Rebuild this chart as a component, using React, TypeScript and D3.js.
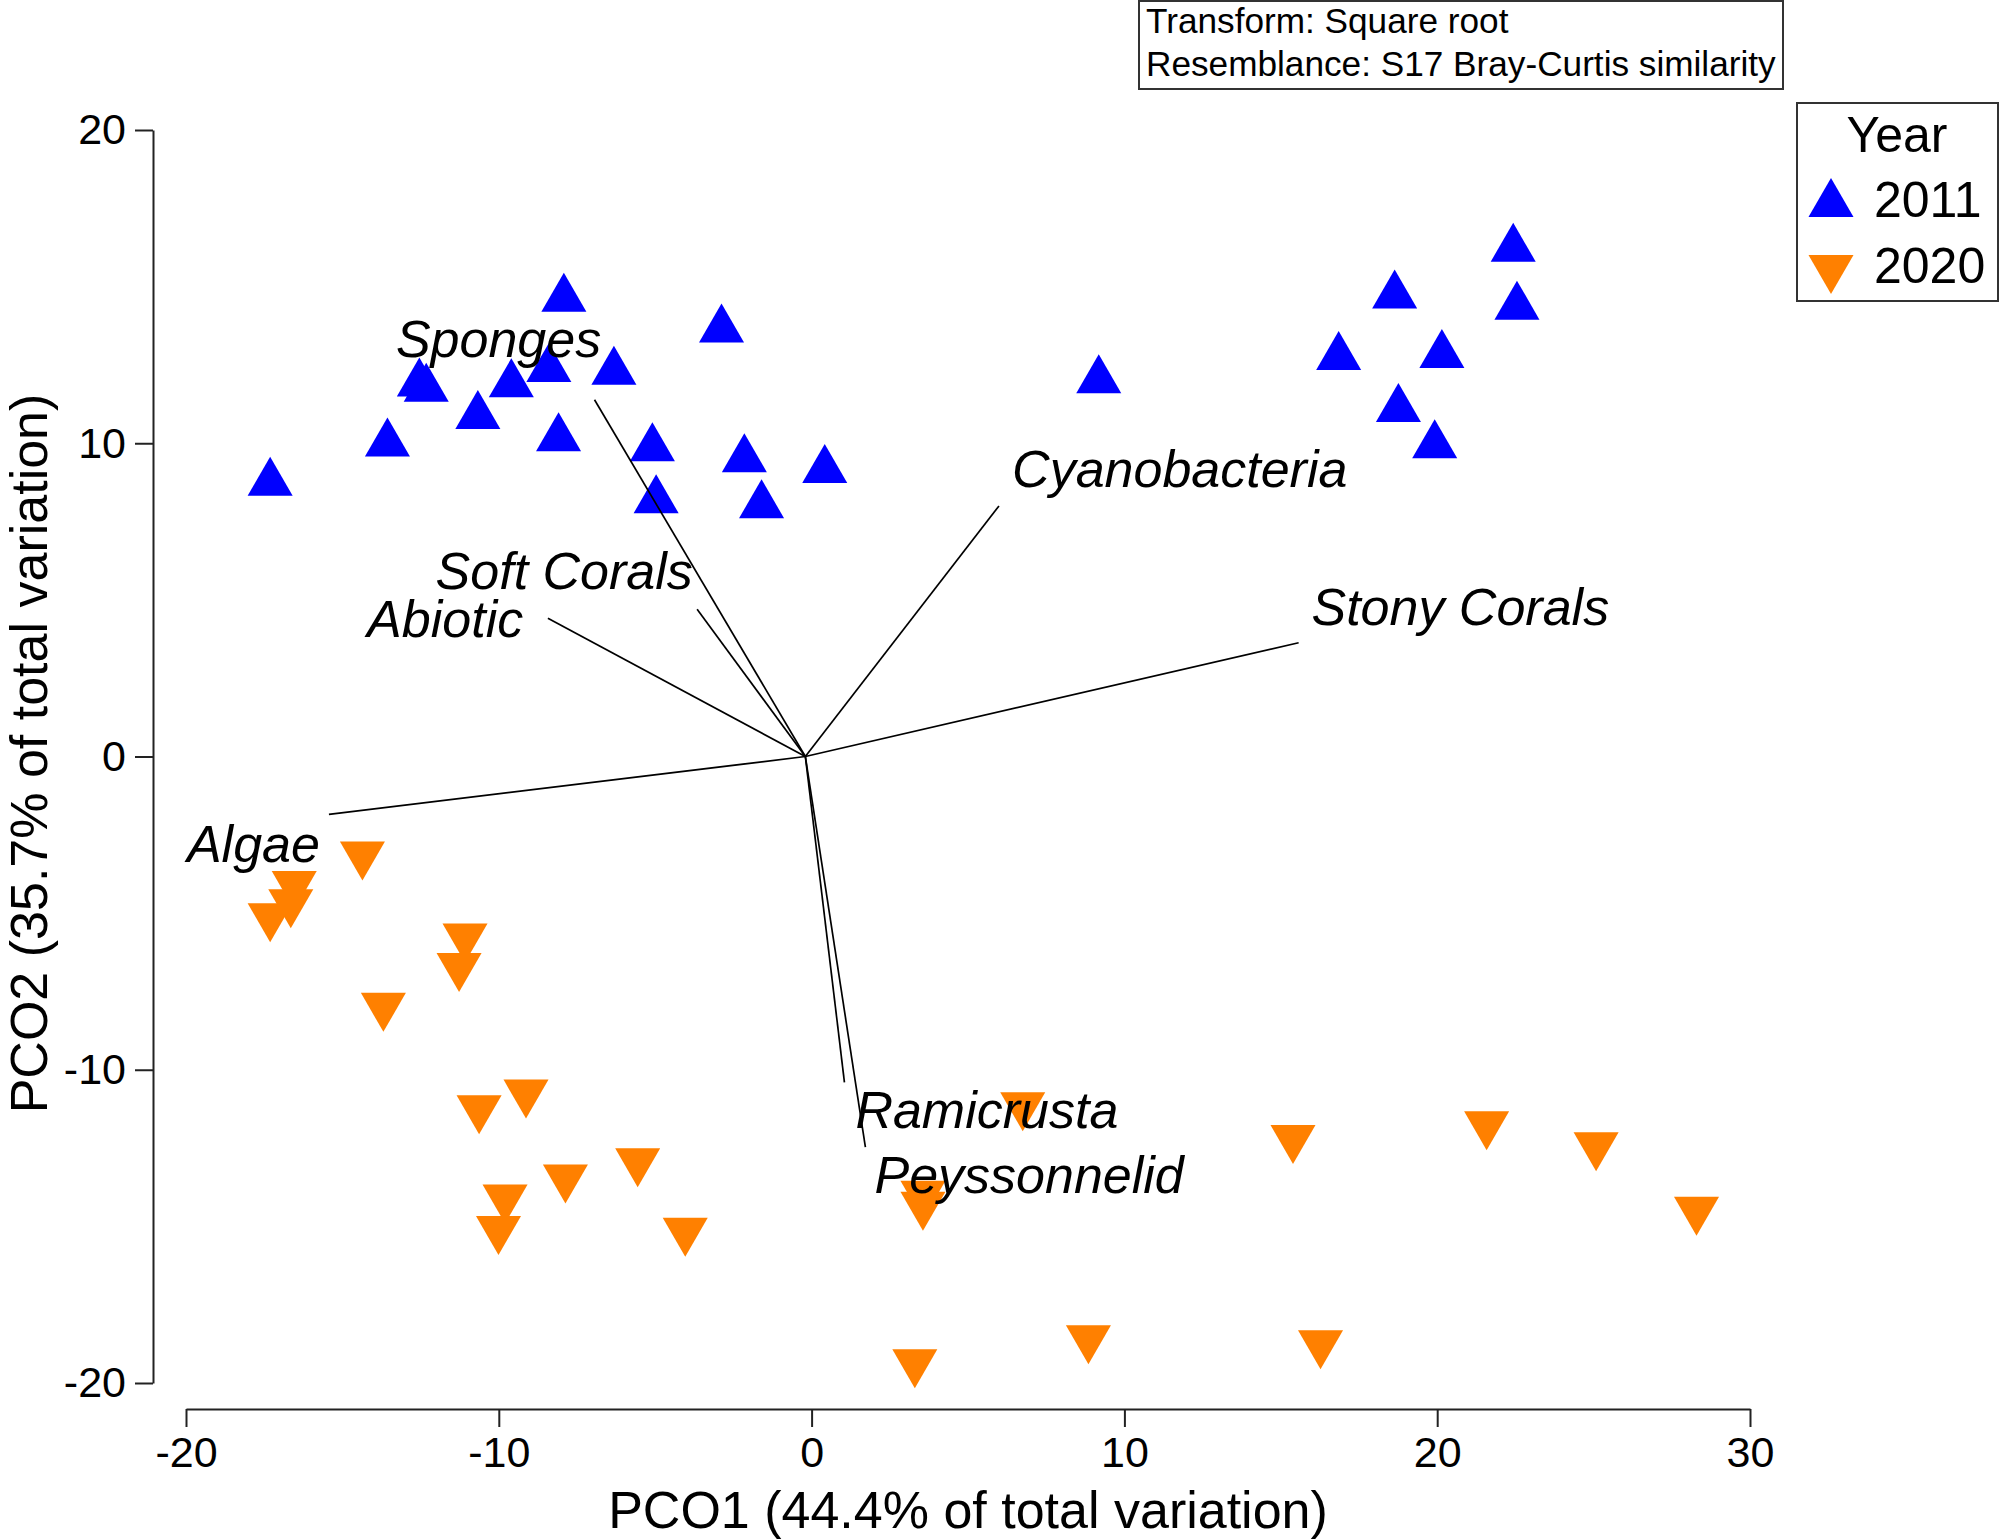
import React, { useEffect, useRef } from "react";
import * as d3 from "d3";

type Pt = [number, number];

// PCO scores
const sites2011: Pt[] = [
  [-17.31, 8.74], [-13.56, 9.99], [-12.54, 11.91], [-12.32, 11.74],
  [-10.67, 10.87], [-9.6, 11.88], [-8.4, 12.37], [-8.09, 10.16],
  [-7.92, 14.61], [-6.32, 12.28], [-5.09, 9.84], [-4.97, 8.18],
  [-2.88, 13.63], [-2.15, 9.49], [-1.6, 8.02], [0.42, 9.15],
  [9.18, 12.01], [16.85, 12.75], [18.64, 14.72], [18.76, 11.09],
  [20.15, 12.82], [19.92, 9.94], [22.43, 16.21], [22.55, 14.36],
];

const sites2020: Pt[] = [
  [-14.36, -3.13], [-16.54, -4.07], [-16.65, -4.65], [-17.31, -5.1],
  [-11.08, -5.75], [-11.27, -6.69], [-13.69, -7.96], [-10.63, -11.23],
  [-9.13, -10.73], [-5.56, -12.92], [-7.87, -13.44], [-9.8, -14.08],
  [-10.01, -15.08], [-4.04, -15.14], [6.75, -11.13], [15.39, -12.18],
  [21.58, -11.74], [25.08, -12.41], [28.29, -14.47], [3.56, -13.96],
  [3.56, -14.31], [3.3, -19.34], [8.85, -18.57], [16.27, -18.73],
];

// vector overlay (Pearson correlations, scaled to the plot)
const vectorOrigin: Pt = [-0.2, 0];
const vectorNames = [
  "Sponges", "Soft Corals", "Abiotic", "Cyanobacteria",
  "Stony Corals", "Algae", "Ramicrusta", "Peyssonnelid",
];
const vectorEnds: Pt[] = [
  [-6.94, 11.39], [-3.66, 4.7], [-8.43, 4.41], [5.99, 8.0],
  [15.57, 3.63], [-15.43, -1.85], [1.05, -10.4], [1.72, -12.47],
];
const labelSpots: Pt[] = [
  [-13.29, 12.74], [-12.02, 5.36], [-14.21, 3.82], [6.41, 8.6],
  [15.98, 4.21], [-19.97, -3.37], [1.4, -11.86], [2.01, -13.94],
];

const years = ["2011", "2020"];
const yearColors = ["#0000ff", "#ff8000"];
const xTicks = [-20, -10, 0, 10, 20, 30];
const yTicks = [-20, -10, 0, 10, 20];
const infoLines = ["Transform: Square root", "Resemblance: S17 Bray-Curtis similarity"];
const xTitle = "PCO1 (44.4% of total variation)";
const yTitle = "PCO2 (35.7% of total variation)";

const FONT = "'Liberation Sans', Arial, Helvetica, sans-serif";
const W = 2000;
const H = 1539;

export default function App() {
  const svgRef = useRef<SVGSVGElement | null>(null);

  useEffect(() => {
    const svg = d3.select(svgRef.current);
    svg.selectAll("*").remove();

    const x = d3.scaleLinear().domain([-20, 30]).range([186, 1750]);
    const y = d3.scaleLinear().domain([-20, 20]).range([1383, 130]);

    const axisColor = "#222";

    // x axis
    const gx = svg
      .append("g")
      .attr("transform", "translate(0,1409)")
      .call(d3.axisBottom(x).tickValues(xTicks).tickSize(18).tickSizeOuter(0).tickPadding(9).tickFormat((d) => String(d)));
    gx.attr("font-family", FONT).attr("font-size", 43);
    gx.selectAll("path, line").attr("stroke", axisColor).attr("stroke-width", 2);
    gx.selectAll("text").attr("fill", "#000");

    // y axis
    const gy = svg
      .append("g")
      .attr("transform", "translate(153,0)")
      .call(d3.axisLeft(y).tickValues(yTicks).tickSize(18).tickSizeOuter(0).tickPadding(9).tickFormat((d) => String(d)));
    gy.attr("font-family", FONT).attr("font-size", 43);
    gy.selectAll("path, line").attr("stroke", axisColor).attr("stroke-width", 2);
    gy.selectAll("text").attr("fill", "#000");

    // axis titles
    svg
      .append("text")
      .attr("x", (x(-20) + x(30)) / 2)
      .attr("y", 1528)
      .attr("text-anchor", "middle")
      .attr("font-family", FONT)
      .attr("font-size", 52)
      .text(xTitle);

    svg
      .append("text")
      .attr("transform", `translate(47,${(y(20) + y(-20)) / 2 - 3}) rotate(-90)`)
      .attr("text-anchor", "middle")
      .attr("font-family", FONT)
      .attr("font-size", 52)
      .text(yTitle);

    // points first, overlay goes on top
    const tri = d3.symbol().type(d3.symbolTriangle).size(878);
    const pg = svg.append("g");
    pg.selectAll("path.y2011")
      .data(sites2011)
      .join("path")
      .attr("class", "y2011")
      .attr("d", tri)
      .attr("transform", (d) => `translate(${x(d[0])},${y(d[1])})`)
      .attr("fill", yearColors[0]);
    pg.selectAll("path.y2020")
      .data(sites2020)
      .join("path")
      .attr("class", "y2020")
      .attr("d", tri)
      .attr("transform", (d) => `translate(${x(d[0])},${y(d[1])}) rotate(180)`)
      .attr("fill", yearColors[1]);

    // vectors
    const vg = svg.append("g");
    vg.selectAll("line")
      .data(vectorEnds)
      .join("line")
      .attr("x1", x(vectorOrigin[0]))
      .attr("y1", y(vectorOrigin[1]))
      .attr("x2", (d) => x(d[0]))
      .attr("y2", (d) => y(d[1]))
      .attr("stroke", "#000")
      .attr("stroke-width", 1.7);

    vg.selectAll("text")
      .data(labelSpots)
      .join("text")
      .attr("x", (d) => x(d[0]))
      .attr("y", (d) => y(d[1]))
      .attr("font-family", FONT)
      .attr("font-style", "italic")
      .attr("font-size", 52)
      .text((_, i) => vectorNames[i]);

    // info box
    const info = svg.append("g");
    info
      .append("rect")
      .attr("x", 1139)
      .attr("y", 1)
      .attr("width", 644)
      .attr("height", 88)
      .attr("fill", "#fff")
      .attr("stroke", "#333")
      .attr("stroke-width", 2);
    info
      .selectAll("text")
      .data(infoLines)
      .join("text")
      .attr("x", 1146)
      .attr("y", (_, i) => 33 + i * 43)
      .attr("font-family", FONT)
      .attr("font-size", 35.2)
      .text((d) => d);

    // legend
    const lg = svg.append("g");
    lg.append("rect")
      .attr("x", 1797)
      .attr("y", 103)
      .attr("width", 201)
      .attr("height", 198)
      .attr("fill", "#fff")
      .attr("stroke", "#333")
      .attr("stroke-width", 2);
    lg.append("text")
      .attr("x", 1897)
      .attr("y", 152)
      .attr("text-anchor", "middle")
      .attr("font-family", FONT)
      .attr("font-size", 50)
      .text("Year");
    years.forEach((yr, i) => {
      const cy = 204 + i * 64;
      lg.append("path")
        .attr("d", tri)
        .attr("transform", `translate(1831,${cy})${i === 1 ? " rotate(180)" : ""}`)
        .attr("fill", yearColors[i]);
      lg.append("text")
        .attr("x", 1874)
        .attr("y", 217 + i * 66)
        .attr("font-family", FONT)
        .attr("font-size", 50)
        .text(yr);
    });
  }, []);

  return (
    <div style={{ position: "absolute", left: 0, top: 0 }}>
      <svg ref={svgRef} width={W} height={H} style={{ display: "block", background: "#fff" }} />
    </div>
  );
}
